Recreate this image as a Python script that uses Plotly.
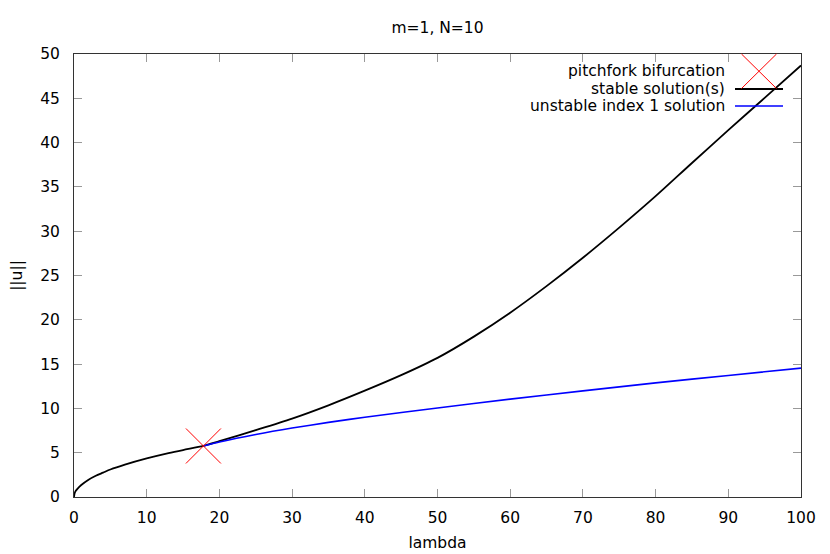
import plotly.graph_objects as go

# stable branch (black)
stable_lam = [0, 0.1, 0.25, 0.5, 1, 2, 3, 4, 5, 7, 10, 13, 15, 17.8, 20, 25, 30, 35, 40,
              45, 50, 55, 60, 65, 70, 75, 80, 85, 90, 95, 100]
stable_u = [0, 0.45, 0.7, 0.95, 1.35, 1.95, 2.4, 2.75, 3.1, 3.65, 4.35, 4.95, 5.3, 5.76,
            6.3, 7.55, 8.85, 10.35, 12.0, 13.75, 15.7, 18.1, 20.8, 23.8, 27.0, 30.4, 33.95,
            37.7, 41.4, 45.05, 48.7]

# unstable index 1 branch (blue)
unstable_lam = [17.8, 20, 25, 30, 35, 40, 50, 60, 70, 80, 90, 100]
unstable_u = [5.76, 6.2, 7.05, 7.78, 8.42, 9.0, 10.05, 11.05, 11.98, 12.88, 13.72, 14.55]

# bifurcation point
bif_lam = [17.8]
bif_u = [5.76]

legend_labels = ["pitchfork bifurcation", "stable solution(s)", "unstable index 1 solution"]

FONT = "DejaVu Sans"
FS = 15.5

fig = go.Figure()
fig.add_trace(go.Scatter(x=stable_lam, y=stable_u, mode="lines", line_shape="spline",
                         line=dict(color="black", width=1.8, smoothing=0.8), showlegend=False))
fig.add_trace(go.Scatter(x=unstable_lam, y=unstable_u, mode="lines", line_shape="spline",
                         line=dict(color="blue", width=1.6, smoothing=0.8), showlegend=False))
fig.add_trace(go.Scatter(x=bif_lam, y=bif_u, mode="markers",
                         marker=dict(symbol="x-thin-open", size=35, color="red",
                                     line=dict(color="red", width=1)),
                         showlegend=False))

# page body adds an 8px offset, so positions below are screen px minus 8
OFF = 8
L, R, T, B = 74 - OFF, 830 - (801 - OFF), 54 - OFF, 554 - (497 - OFF)
pw, ph = 727.0, 443.0

# gnuplot-style key: right aligned text, sample on the right
key_y = [(497 - 71) / ph, (497 - 89) / ph, (497 - 106) / ph]
text_x = (727 - 74) / pw
s0, s1 = (735 - 74) / pw, (783 - 74) / pw
for lab, yy in zip(legend_labels, key_y):
    fig.add_annotation(x=text_x, y=yy, xref="paper", yref="paper", text=lab,
                       showarrow=False, xanchor="right", yanchor="middle",
                       font=dict(family=FONT, size=FS, color="black"))
fig.add_shape(type="line", xref="paper", yref="paper", x0=s0, x1=s1, y0=key_y[1], y1=key_y[1],
              line=dict(color="black", width=1.8))
fig.add_shape(type="line", xref="paper", yref="paper", x0=s0, x1=s1, y0=key_y[2], y1=key_y[2],
              line=dict(color="blue", width=1.6))
cx, cy = (759 - 74) / pw, key_y[0]
dx, dy = 17.5 / pw, 17.5 / ph
top = min(cy + dy, 1.0)
fig.add_shape(type="line", xref="paper", yref="paper", x0=cx - dx, x1=cx + dx, y0=cy - dy, y1=top,
              line=dict(color="red", width=1))
fig.add_shape(type="line", xref="paper", yref="paper", x0=cx - dx, x1=cx + dx, y0=top, y1=cy - dy,
              line=dict(color="red", width=1))

axis_common = dict(showgrid=False, zeroline=False, showline=True, mirror="ticks",
                   linecolor="#333333", linewidth=1, ticks="inside", ticklen=8,
                   tickcolor="#999999", tickwidth=1,
                   tickfont=dict(family=FONT, size=FS, color="black"))

fig.update_layout(
    width=830, height=554,
    margin=dict(l=L, r=R, t=T, b=B, autoexpand=False),
    paper_bgcolor="white", plot_bgcolor="white",
    title=dict(text="m=1, N=10", x=(437.5 - OFF) / 830, xanchor="center", y=1 - (28 - OFF) / 554,
               yanchor="middle", font=dict(family=FONT, size=FS, color="black")),
    xaxis=dict(range=[0, 100], dtick=10, ticklabelstandoff=6,
               title=dict(text="lambda", font=dict(family=FONT, size=FS, color="black"), standoff=11),
               **axis_common),
    yaxis=dict(range=[0, 50], dtick=5, ticklabelstandoff=10,
               title=dict(text="||u||", font=dict(family=FONT, size=FS, color="black"), standoff=16),
               **axis_common),
)

fig.write_html("out.html")
